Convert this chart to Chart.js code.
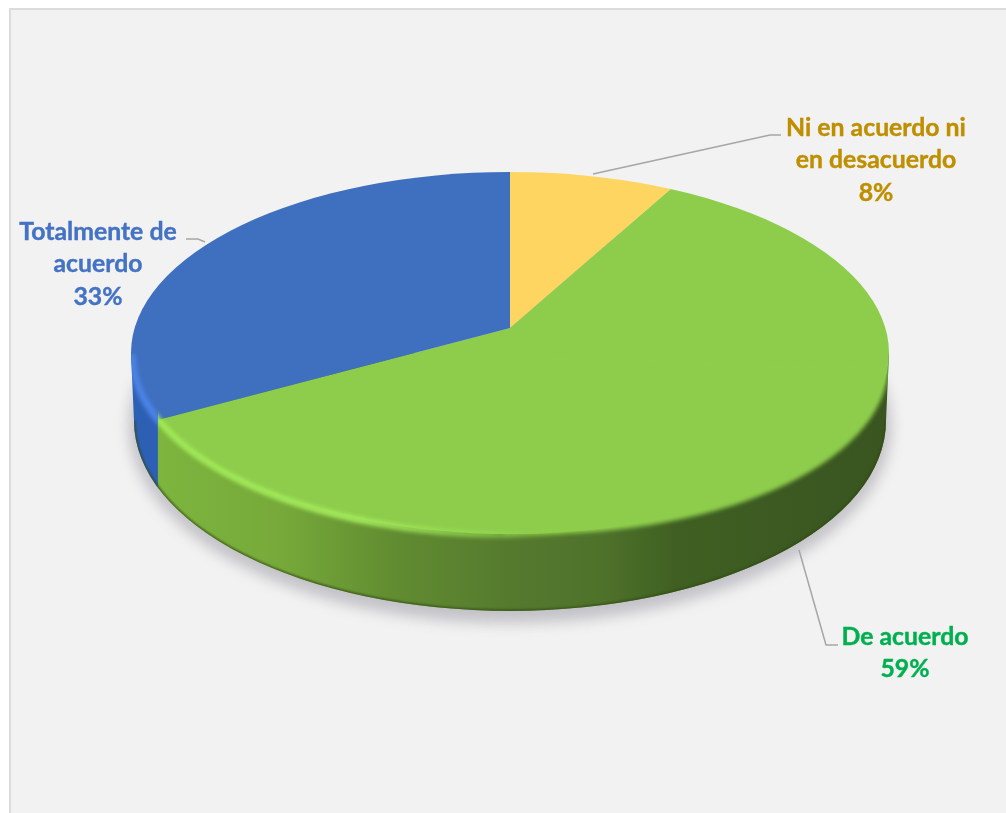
<!DOCTYPE html>
<html>
<head>
<meta charset="utf-8">
<title>Grado de acuerdo</title>
<script src="https://cdn.jsdelivr.net/npm/chart.js@4"></script>
<style>
  html, body { margin: 0; padding: 0; background: #fff; overflow: hidden; }
  canvas { display: block; }
</style>
</head>
<body>
<canvas id="pie" width="1006" height="813"></canvas>
<script>
// data, clockwise from 12 o'clock
const categories = ['Ni en acuerdo ni en desacuerdo', 'De acuerdo', 'Totalmente de acuerdo'];
const values = [8, 59, 33];
const sliceColors = ['#fdd560', '#8ecd4c', '#3f6fbf'];
const labelColors = ['#bf8f00', '#00b050', '#4472c4'];

// how the category names wrap in the labels
const labelLines = [['Ni en acuerdo ni', 'en desacuerdo'], ['De acuerdo'], ['Totalmente de', 'acuerdo']];
const labelPos = [[876, 128], [905, 637], [98, 232]];
const leaders = [
  [[593, 174], [770, 135], [781, 135]],
  [[799, 550], [826, 645], [838, 645]],
  [[186, 239], [198, 239], [205, 242]]
];

// fake 3d: wedges are squashed around the apex and cut by the ellipse of the top face
const apex = { x: 510, y: 328, squash: 0.475 };
const topFace = { x: 510, y: 353, rx: 379, ry: 181 };
const bottomFace = { x: 510, y: 421, rx: 376, ry: 190 };

function ellipsePath(ctx, e) {
  ctx.beginPath();
  ctx.ellipse(e.x, e.y, e.rx, e.ry, 0, 0, Math.PI * 2);
}

function wallPath(ctx) {
  ctx.beginPath();
  ctx.ellipse(bottomFace.x, bottomFace.y, bottomFace.rx, bottomFace.ry, 0, Math.PI, 0, true);
  ctx.lineTo(topFace.x + topFace.rx, topFace.y);
  ctx.lineTo(topFace.x - topFace.rx, topFace.y);
  ctx.closePath();
}

// x where the ray of a slice edge reaches the rim of the top face
function rimX(angle) {
  const dx = Math.cos(angle), dy = Math.sin(angle) * apex.squash;
  const ox = apex.x - topFace.x, oy = apex.y - topFace.y;
  const a = dx * dx / (topFace.rx * topFace.rx) + dy * dy / (topFace.ry * topFace.ry);
  const b = 2 * (ox * dx / (topFace.rx * topFace.rx) + oy * dy / (topFace.ry * topFace.ry));
  const c = ox * ox / (topFace.rx * topFace.rx) + oy * oy / (topFace.ry * topFace.ry) - 1;
  const t = (-b + Math.sqrt(b * b - 4 * a * c)) / (2 * a);
  return apex.x + t * dx;
}

function hGradient(ctx, stops) {
  const g = ctx.createLinearGradient(130, 0, 888, 0);
  stops.forEach(s => g.addColorStop(s[0], s[1]));
  return g;
}

const panel = {
  id: 'panel',
  beforeDraw(chart) {
    const ctx = chart.ctx;
    ctx.save();
    ctx.fillStyle = '#fff';
    ctx.fillRect(0, 0, chart.width, chart.height);
    ctx.fillStyle = '#f2f2f2';
    ctx.fillRect(10, 9, chart.width, chart.height);
    ctx.strokeStyle = '#dcdcdc';
    ctx.lineWidth = 2;
    ctx.beginPath();
    ctx.moveTo(10, chart.height);
    ctx.lineTo(10, 9);
    ctx.lineTo(chart.width, 9);
    ctx.stroke();
    ctx.restore();
  }
};

const pie3d = {
  id: 'pie3d',
  beforeDatasetsDraw(chart) {
    const ctx = chart.ctx;
    const arcs = chart.getDatasetMeta(0).data;
    const split = rimX(arcs[1].endAngle);

    // soft shadow under the disc
    ctx.save();
    ctx.filter = 'blur(7px)';
    ctx.fillStyle = 'rgba(70,70,90,0.28)';
    ellipsePath(ctx, { x: 510, y: 426, rx: 381, ry: 197 });
    ctx.fill();
    ctx.restore();

    // side wall, blue part then green part
    ctx.save();
    wallPath(ctx);
    ctx.clip();
    ctx.fillStyle = '#2d5fb4';
    ctx.fillRect(0, 300, split + 1, 400);
    ctx.fillStyle = hGradient(ctx, [
      [0.04, '#7db53e'], [0.2, '#76a93a'], [0.35, '#618c31'], [0.5, '#557a2e'],
      [0.62, '#4f722b'], [0.72, '#3f6022'], [0.85, '#3c5a22'], [1, '#3a5520']
    ]);
    ctx.fillRect(split, 300, 900, 400);
    // dark foot of the wall
    ctx.filter = 'blur(1px)';
    ctx.strokeStyle = 'rgba(50,75,15,0.8)';
    ctx.lineWidth = 3;
    ctx.beginPath();
    ctx.ellipse(bottomFace.x, bottomFace.y, bottomFace.rx, bottomFace.ry, 0, Math.PI, 0, true);
    ctx.stroke();
    ctx.restore();

    // the library draws the wedges inside this clip and transform
    ctx.save();
    ellipsePath(ctx, topFace);
    ctx.clip();
    ctx.translate(apex.x, apex.y);
    ctx.scale(1, apex.squash);
    ctx.translate(-arcs[0].x, -arcs[0].y);
  },
  afterDatasetsDraw(chart) {
    const ctx = chart.ctx;
    ctx.restore();
    const split = rimX(chart.getDatasetMeta(0).data[1].endAngle);

    // bevel along the front rim of the top face
    ctx.save();
    wallPath(ctx);
    ctx.clip();

    // the rim sags a little on the right, covering more of the wall there
    ctx.save();
    ctx.filter = 'blur(2px)';
    ctx.fillStyle = sliceColors[1];
    ctx.beginPath();
    ctx.ellipse(topFace.x, topFace.y, topFace.rx, topFace.ry, 0.035, 0, Math.PI / 2);
    ctx.lineTo(topFace.x, topFace.y);
    ctx.closePath();
    ctx.fill();
    ctx.restore();

    // highlight on the left part
    ctx.save();
    ctx.beginPath();
    ctx.rect(split, 300, 900, 400);
    ctx.clip();
    ctx.filter = 'blur(2px)';
    ctx.lineWidth = 6;
    ctx.strokeStyle = hGradient(ctx, [
      [0.04, '#a2ec58'], [0.3, '#a6ee5e'], [0.47, 'rgba(150,220,82,0.7)'], [0.58, 'rgba(142,205,76,0)']
    ]);
    ctx.beginPath();
    ctx.ellipse(topFace.x, topFace.y + 1, topFace.rx - 1, topFace.ry, 0, Math.PI, 0, true);
    ctx.stroke();
    ctx.restore();

    ctx.filter = 'blur(2px)';
    ctx.beginPath();
    ctx.rect(0, 300, split, 400);
    ctx.clip();
    ctx.strokeStyle = '#4c84e6';
    ctx.lineWidth = 7;
    ctx.beginPath();
    ctx.ellipse(topFace.x, topFace.y + 1, topFace.rx - 1, topFace.ry, 0, Math.PI, 0, true);
    ctx.stroke();
    ctx.restore();
  },
  afterDraw(chart) {
    const ctx = chart.ctx;
    ctx.save();
    ctx.strokeStyle = '#a6a6a6';
    ctx.lineWidth = 1.5;
    leaders.forEach(pts => {
      ctx.beginPath();
      pts.forEach((p, i) => i ? ctx.lineTo(p[0], p[1]) : ctx.moveTo(p[0], p[1]));
      ctx.stroke();
    });
    ctx.font = 'bold 24.8px Lato';
    ctx.textAlign = 'center';
    ctx.textBaseline = 'middle';
    ctx.lineWidth = 0.4;
    values.forEach((v, i) => {
      ctx.fillStyle = labelColors[i];
      ctx.strokeStyle = labelColors[i];
      const lines = labelLines[i].concat(v + '%');
      lines.forEach((line, j) => {
        ctx.fillText(line, labelPos[i][0], labelPos[i][1] + j * 32.5);
        ctx.strokeText(line, labelPos[i][0], labelPos[i][1] + j * 32.5);
      });
    });
    ctx.restore();
  }
};

new Chart(document.getElementById('pie'), {
  type: 'pie',
  data: {
    labels: categories,
    datasets: [{
      data: values,
      backgroundColor: sliceColors,
      borderWidth: 0,
      clip: false
    }]
  },
  options: {
    responsive: false,
    animation: false,
    radius: 700,
    events: [],
    plugins: {
      legend: { display: false },
      tooltip: { enabled: false }
    }
  },
  plugins: [panel, pie3d]
});
</script>
</body>
</html>
